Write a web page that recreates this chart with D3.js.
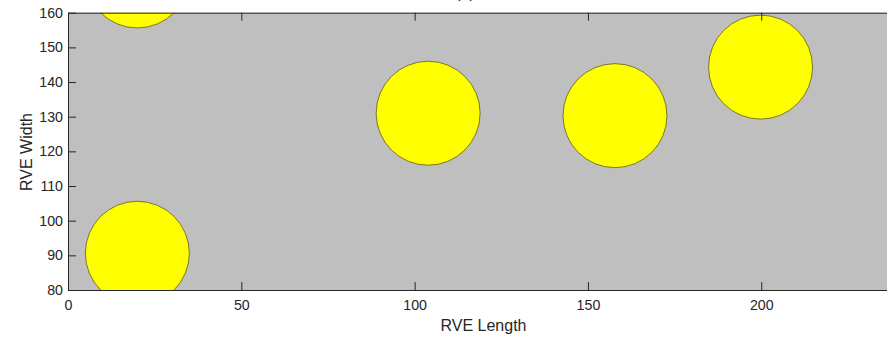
<!DOCTYPE html>
<html>
<head>
<meta charset="utf-8">
<script src="https://cdn.jsdelivr.net/npm/d3@7/dist/d3.min.js"></script>
<style>
  html, body { margin: 0; padding: 0; background: #ffffff; }
  svg { display: block; }
  text { font-family: "Liberation Sans", Arial, Helvetica, sans-serif; fill: #262626; }
</style>
</head>
<body>
<svg id="chart" width="887" height="340"></svg>
<script>
// ---- data ----
const fiberX = [20, 103.9, 157.8, 199.8, 20];
const fiberY = [90.6, 131.0, 130.3, 144.3, 170.6];
const fiberRadius = 15;
const xTicks = [0, 50, 100, 150, 200];
const yTicks = [80, 90, 100, 110, 120, 130, 140, 150, 160];
const xLabel = "RVE Length";
const yLabel = "RVE Width";
const title = "(b)";

// ---- layout ----
const W = 887, H = 340;
const svg = d3.select("#chart");
const plotLeft = 68, plotTop = 12.7, plotBottom = 290;
const pxPerUnit = (plotBottom - plotTop) / 80;

const x = d3.scaleLinear()
  .domain([0, (W - plotLeft) / pxPerUnit])
  .range([plotLeft, W]);
const y = d3.scaleLinear().domain([80, 160]).range([plotBottom, plotTop]);

svg.append("defs").append("clipPath").attr("id", "plotclip")
  .append("rect").attr("x", plotLeft).attr("y", plotTop)
  .attr("width", W - plotLeft).attr("height", plotBottom - plotTop);

svg.append("rect").attr("x", plotLeft).attr("y", plotTop)
  .attr("width", W - plotLeft).attr("height", plotBottom - plotTop)
  .attr("fill", "#bfbfbf");

const rPx = y(80) - y(80 + fiberRadius);
svg.append("g").attr("clip-path", "url(#plotclip)")
  .selectAll("circle").data(fiberX.map((d, i) => [d, fiberY[i]]))
  .join("circle")
  .attr("cx", d => x(d[0]))
  .attr("cy", d => y(d[1]))
  .attr("r", rPx)
  .attr("fill", "#ffff00")
  .attr("stroke", "#5a5a20")
  .attr("stroke-width", 0.8);

// axes
const fs = "14.2px";
const xAxis = d3.axisBottom(x).tickValues(xTicks).tickSizeInner(-8).tickSizeOuter(0).tickPadding(10);
const gx = svg.append("g").attr("transform", `translate(0,${plotBottom})`).call(xAxis);
gx.selectAll("text").style("font-size", fs).attr("fill", "#262626");

const xTopAxis = d3.axisTop(x).tickValues(xTicks).tickSizeInner(-8).tickSizeOuter(0).tickFormat("");
svg.append("g").attr("transform", `translate(0,${plotTop})`).call(xTopAxis);

const yAxis = d3.axisLeft(y).tickValues(yTicks).tickSizeInner(-8).tickSizeOuter(0).tickPadding(5);
const gy = svg.append("g").attr("transform", `translate(${plotLeft},0)`).call(yAxis);
gy.selectAll("text").style("font-size", fs).attr("fill", "#262626");

svg.selectAll(".domain").attr("stroke", "#262626").attr("stroke-width", 1);
svg.selectAll(".tick line").attr("stroke", "#262626").attr("stroke-width", 1);

svg.append("text").attr("x", 483.5).attr("y", 331)
  .attr("text-anchor", "middle").style("font-size", "16px").text(xLabel);

svg.append("text").attr("transform", "translate(31.5,152) rotate(-90)")
  .attr("text-anchor", "middle").style("font-size", "16px").text(yLabel);

svg.append("text").attr("x", 465).attr("y", -2)
  .attr("text-anchor", "middle").style("font-size", "16px").text(title);
</script>
</body>
</html>
